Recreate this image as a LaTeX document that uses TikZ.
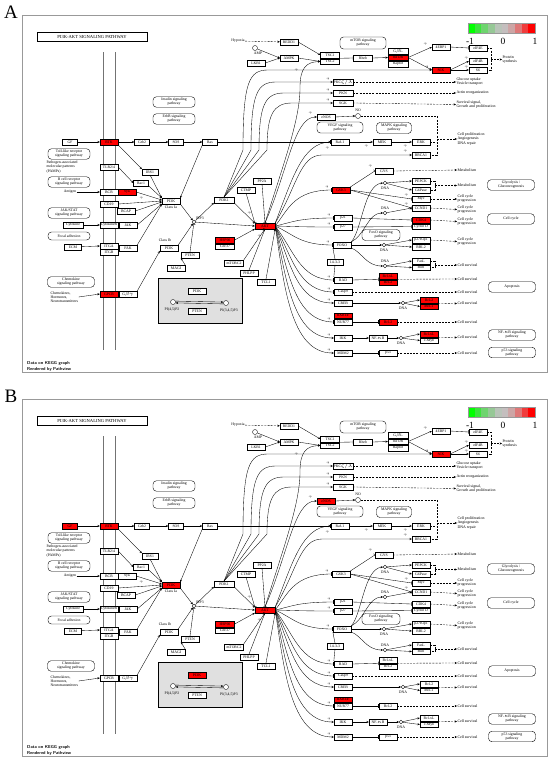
\documentclass[tikz,border=0pt]{standalone}
\usepackage{fontspec}
\setmainfont{Liberation Serif}
\usetikzlibrary{arrows.meta,calc}
\newcommand\gf{\fontsize{3.8}{4.1}\selectfont}
\newcommand\of{\fontsize{3.9}{4.1}\selectfont}
\newcommand\ppf{\fontsize{2.8}{3}\selectfont}
\tikzset{
 gb/.style={draw, fill=white, line width=0.35pt, minimum width=18pt, minimum height=5.5pt, inner sep=0pt, font=\gf, hl/#1/.try},
 gb/.default=none,
 pw/.style={draw, rounded corners=3.5pt, line width=0.4pt, align=center, font=\gf, inner sep=0.8pt, minimum width=42pt, minimum height=10.5pt},
 txt/.style={font=\gf, inner sep=0.4pt, align=left},
 otx/.style={font=\of, inner sep=0.3pt, align=left, anchor=west},
 ar/.style={line width=0.35pt, -{Stealth[length=2.4pt,width=2.1pt]}},
 inh/.style={line width=0.35pt, -{Bar[width=3.5pt,line width=0.45pt]}},
 dar/.style={ar, dash pattern=on 2pt off 1.2pt},
 dln/.style={line width=0.35pt, dash pattern=on 2pt off 1.2pt},
 ln/.style={line width=0.35pt},
 cmp/.style={draw, circle, fill=white, inner sep=0pt, minimum size=3.6pt, line width=0.35pt},
 pp/.style={font=\ppf, inner sep=0pt},
 mem/.style={draw=black!55, line width=1pt},
}
% fan from AKT to lower targets: style, target, y, control x
\newcommand\fan[4]{%
 \draw[#1] (AKT.east) .. controls (#4,{226+0.45*(#3-226)}) and ({#4+6},#3) .. (#2.west);
 \node[pp] at ([xshift=-5pt,yshift=2.6pt]#2.west) {+p};}
% fan from PDK1 to upper targets: target, y, bend x
\newcommand\pfan[3]{%
 \draw[ar] (PDK1.north) -- (#3,150) .. controls (#3,{#2+12}) and ({#3+6},#2) .. ({#3+25},#2) -- (#1.west);
 \node[pp] at ([xshift=-5pt,yshift=2.6pt]#1.west) {+p};}
\newcommand\keggpanel{%
\draw[draw=black!40, line width=0.9pt] (22,15) rectangle (547,372);
\node[draw, line width=0.4pt, minimum width=110pt, minimum height=9pt, inner sep=0pt, font=\fontsize{4.6}{5}\selectfont] (title) at (92,37) {PI3K-AKT SIGNALING PATHWAY};
\draw[mem] (103,52) -- (103,350);
\draw[mem] (115,52) -- (115,350);
% legend
\foreach \ii/\cR/\cG/\cB in {0/0/255/0,1/60/228/60,2/110/212/110,3/150/200/150,4/185/196/185,5/196/190/190,6/205/165/165,7/222/120/120,8/240/60/60,9/255/0/0}
  \fill[fill={rgb,255:red,\cR;green,\cG;blue,\cB}] ({468+6.7*\ii},23) rectangle ({468+6.7*(\ii+1)},33);
\draw[black!40, line width=0.3pt] (468,23) rectangle (535,33);
\node[font=\fontsize{9.5}{9.5}\selectfont] (lg1) at (470,41) {-1};
\node[font=\fontsize{9.5}{9.5}\selectfont] (lg2) at (503,41) {0};
\node[font=\fontsize{9.5}{9.5}\selectfont] (lg3) at (535,41) {1};
\node[anchor=west, font=\sffamily\bfseries\fontsize{4.3}{5}\selectfont, inner sep=0pt] (data1) at (27,363) {Data on KEGG graph};
\node[anchor=west, font=\sffamily\bfseries\fontsize{4.3}{5}\selectfont, inner sep=0pt] (data2) at (27,369) {Rendered by Pathview};
% left pathways and ligands
\node[pw] (tollpw) at (69,154) {Toll-like receptor\\signaling pathway};
\node[txt, anchor=west] (pamp) at (46,167) {Pathogen-associated\\molecular patterns\\(PAMPs)};
\node[pw] (bcrpw) at (69,182) {B cell receptor\\signaling pathway};
\node[txt] (antigen) at (70,192) {Antigen};
\node[pw] (jakpw) at (69,213) {JAK/STAT\\signaling pathway};
\node[gb=Cytokine, minimum width=20pt] (Cytokine) at (73,225) {Cytokine};
\node[pw, minimum height=8pt] (fapw) at (69,236) {Focal adhesion};
\node[gb=ECM, minimum width=17pt] (ECM) at (73,247) {ECM};
\node[pw, minimum width=47pt] (chempw) at (71,282) {Chemokine\\signaling pathway};
\node[txt, anchor=west] (chemo) at (50,297) {Chemokines,\\Hormones,\\Neurotransmitters};
\node[pw] (inspw) at (174,102) {Insulin signaling\\pathway};
\node[pw] (erbpw) at (174,119) {ErbB signaling\\pathway};
% membrane genes
\node[gb=GF, minimum width=15pt] (GF) at (70,142) {GF};
\node[gb=RTK] (RTK) at (109,142) {RTK};
\node[gb=Grb2, minimum width=15pt] (Grb2) at (142,142) {Grb2};
\node[gb=SOS, minimum width=15pt] (SOS) at (176,142) {SOS};
\node[gb=Ras, minimum width=15pt] (Ras) at (210,142) {Ras};
\node[gb=TLR] (TLR) at (109,167) {TLR2/4};
\node[gb=IRS1, minimum width=16pt] (IRS1) at (150,172) {IRS1};
\node[gb=Rac1, minimum width=15pt] (Rac1) at (141,183) {Rac1};
\node[gb=BCR] (BCR) at (109,192) {BCR};
\node[gb=Syk] (Syk) at (127,192) {Syk};
\node[gb=CD19] (CD19) at (109,204) {CD19};
\node[gb=BCAP] (BCAP) at (126,211) {BCAP};
\node[gb=CytR] (CytR) at (109,225) {CytokineR};
\node[gb=JAK] (JAK) at (128,225) {JAK};
\node[gb=ITGA] (ITGA) at (109,246) {ITGA};
\node[gb=ITGB] (ITGB) at (109,252) {ITGB};
\node[gb=FAK] (FAK) at (128,248) {FAK};
\node[gb=GPCR] (GPCR) at (109,294) {GPCR};
\node[gb=Gbg] (Gbg) at (128,294) {G$\beta\gamma$};
% PI3K area
\node[gb=PI3K] (PI3K) at (171,201) {PI3K};
\node[txt] (cla) at (171,207.5) {Class Ia};
\node[txt] (clb) at (165,240.5) {Class Ib};
\node[gb=PI3Kb] (PI3Kb) at (169,248) {PI3K};
\node[gb=PTEN] (PTEN) at (190,255) {PTEN};
\node[gb=MAGI] (MAGI) at (176,268) {MAGI};
\node[cmp] (PIP3) at (194,222) {};
\node[txt] (pip3l) at (200,218.5) {PIP3};
\node[gb=PDK1, minimum width=20pt] (PDK1) at (224,200) {PDK1};
\node[gb=CTMP] (CTMP) at (246,190) {CTMP};
\node[gb=PP2A] (PP2A) at (262,181) {PP2A};
\node[gb=AKT, minimum width=20pt] (AKT) at (265,226) {AKT};
\node[gb=HSP90, minimum width=19pt] (HSP90) at (225,240) {HSP90};
\node[gb=Cdc37, minimum width=19pt] (Cdc37) at (225,246.5) {Cdc37};
\node[gb=mTORC2, minimum width=19pt] (mTORC2) at (234,263) {mTORC2};
\node[gb=PHLPP] (PHLPP) at (249,273) {PHLPP};
\node[gb=TCL1] (TCL1) at (266,282) {TCL1};
% gray box
\draw[fill=black!12, line width=0.6pt] (158,278) rectangle (242,323);
\node[gb=PI3Kg] (PI3Kg) at (197,291) {PI3K};
\node[gb=PTENg] (PTENg) at (197,311) {PTEN};
\node[cmp, minimum size=5pt] (c1) at (173,302) {};
\node[cmp, minimum size=5pt] (c2) at (226,303) {};
\node[txt] (c1l) at (172,309.5) {PI(4,5)P2};
\node[txt] (c2l) at (229,310.5) {PI(3,4,5)P3};
\draw[ar] ([yshift=0.9pt]c1.east) -- ([yshift=0.9pt]c2.west);
\draw[ar] ([yshift=-0.9pt]c2.west) -- ([yshift=-0.9pt]c1.east);
% top area
\node[txt] (hypoxia) at (238,41) {Hypoxia};
\node[gb=REDD1] (REDD1) at (289,42) {REDD1};
\node[cmp, minimum size=5pt] (AMP) at (255,48) {};
\node[txt] (ampl) at (258,53) {AMP};
\node[gb=LKB1] (LKB1) at (256,63) {LKB1};
\node[gb=AMPK] (AMPK) at (289,58) {AMPK};
\node[gb=TSC1, minimum width=19pt] (TSC1) at (330,55) {TSC1};
\node[gb=TSC2, minimum width=19pt] (TSC2) at (330,61.5) {TSC2};
\node[gb=Rheb, minimum width=19pt] (Rheb) at (363,58) {Rheb};
\node[pw, minimum width=46pt, minimum height=12pt] (mtorpw) at (363,43) {mTOR signaling\\pathway};
\node[gb=GbL, minimum width=20pt] (GbL) at (398,51) {G$\beta$L};
\node[gb=mTOR, minimum width=20pt] (mTOR) at (398,57.5) {mTOR};
\node[gb=Raptor, minimum width=20pt] (Raptor) at (398,64) {Raptor};
\node[gb=EBP] (EBP) at (441,47) {4EBP1};
\node[gb=eIF4E] (eIF4E) at (478,48) {eIF4E};
\node[gb=eIF4B] (eIF4B) at (478,61) {eIF4B};
\node[gb=S6] (S6) at (478,70) {S6};
\node[gb=S6K] (S6K) at (441,70) {S6K};
\node[otx] (protsyn) at (502,59.5) {Protein\\synthesis};
\draw[dar] (hypoxia) -- (REDD1);
\draw[ar] (REDD1.east) -- (TSC1.west);
\draw[ar] (AMP) -- (AMPK.west);
\draw[ar] (LKB1.east) -- (AMPK.west);
\draw[ar] (AMPK.east) -- (TSC2.west);
\draw[inh] ($(TSC1.south east)!0.5!(TSC2.north east)$) -- (Rheb.west);
\draw[ar] (Rheb.east) -- (mTOR.west);
\draw[ar] (mTOR.east) -- (EBP.west);
\draw[ar] (mTOR.east) -- (S6K.west);
\draw[inh] (EBP.east) -- (eIF4E.west);
\draw[ar] (S6K.east) -- (eIF4B.west);
\draw[ar] (S6K.east) -- (S6.west);
\draw[dln] (eIF4E.east) -- (491,48) -- (491,70) -- (S6.east);
\draw[dar] (491,59.5) -- (protsyn.west);
\node[pp] (p1) at (425,44) {+p};
\node[pp] (p2) at (466,58) {+p};
\node[pp] (p3) at (466,67) {+p};
% PKC etc
\node[gb=PKC, minimum width=20pt] (PKC) at (343,82) {PKC$\zeta/\lambda$};
\node[gb=PKN, minimum width=20pt] (PKN) at (343,93) {PKN};
\node[gb=SGK, minimum width=20pt] (SGK) at (343,103) {SGK};
\node[otx] (glu) at (456,82) {Glucose uptake\\Vesicle transport};
\node[otx] (actin) at (456,93) {Actin reorganization};
\node[otx] (surv1) at (456,104.5) {Survival signal,\\Growth and proliferation};
\draw[dar] (PKC.east) -- (glu.west);
\draw[dar] (PKN.east) -- (actin.west);
\draw[dar] (SGK.east) -- (surv1.west);
\pfan{S6K}{70}{243}
\pfan{PKC}{82}{251}
\pfan{PKN}{93}{259}
\pfan{SGK}{103}{267}
% eNOS / MAPK
\node[gb=eNOS] (eNOS) at (326,117) {eNOS};
\node[cmp, minimum size=5pt] (NO) at (358,116) {};
\node[txt] (nol) at (358,110.5) {NO};
\node[pw, minimum width=46pt, minimum height=11pt] (vegfpw) at (340,127.5) {VEGF signaling\\pathway};
\node[pw, minimum width=35pt, minimum height=11pt] (mapkpw) at (394,128) {MAPK signaling\\pathway};
\node[gb=Raf1] (Raf1) at (340,142) {Raf-1};
\node[gb=MEK] (MEK) at (382,142) {MEK};
\node[gb=ERK] (ERK) at (421,142) {ERK};
\node[gb=BRCA1] (BRCA1) at (421,155) {BRCA1};
\node[otx] (cellprol) at (457,139) {Cell proliferation\\Angiogenesis\\DNA repair};
\draw[ar] (eNOS.east) -- (NO.west);
\draw[dln] (NO.east) -- (437,116) -- (437,155) -- (BRCA1.east);
\draw[dln] (ERK.east) -- (437,142);
\draw[dar] (437,139) -- (cellprol.west);
\draw[ar] (Ras.east) -- (Raf1.west);
\draw[ar] (Raf1.east) -- (MEK.west);
\draw[ar] (MEK.east) -- (ERK.west);
\node[pp] (p4) at (366,146) {+p};
\node[pp] (p5) at (405,146) {+p};
% AKT upper lines
\draw[ar] (AKT.north) .. controls (283,165) and (300,120) .. (300,88) .. controls (300,68) and (306,62) .. (TSC2.west);
\node[pp] (p6) at (296,70) {+p};
\draw[ar] (AKT.north) .. controls (288,170) and (294,117) .. (eNOS.west);
\node[pp] (p7) at (310,113) {+p};
\draw[inh] (AKT.north east) .. controls (292,180) and (302,142) .. (Raf1.west);
\node[pp] (p8) at (327,148) {+p};
\draw[ar] (AKT.north east) .. controls (297,186) and (300,155) .. (322,155) -- (BRCA1.west);
\node[pp] (p9) at (405,151) {+p};
% metabolism / cell cycle
\node[gb=GYS] (GYS) at (384,171) {GYS};
\node[gb=GSK3] (GSK3) at (341,190) {GSK3};
\node[cmp] (DNA1) at (385,183) {};
\node[txt] (dna1l) at (385,188) {DNA};
\node[gb=PEPCK] (PEPCK) at (421,181) {PEPCK};
\node[gb=G6Pase] (G6Pase) at (421,190) {G6Pase};
\node[gb=Myc] (Myc) at (421,199) {Myc};
\node[gb=CCND1] (CCND1) at (421,208) {CCND1};
\node[otx] (met1) at (457,170) {Metabolism};
\node[otx] (met2) at (457,185.5) {Metabolism};
\node[otx] (cc1) at (457,199) {Cell cycle\\progression};
\node[otx] (cc2) at (457,209.5) {Cell cycle\\progression};
\node[pw, minimum width=47pt] (glypw) at (511,185) {Glycolysis /\\Gluconeogenesis};
\draw[inh] (GSK3.north east) -- (GYS.west);
\node[pp] (p10) at (370,166) {+p};
\draw[dar] (GYS.east) -- (met1.west);
\draw[ar] (DNA1) -- (PEPCK.west);
\draw[ar] (DNA1) -- (G6Pase.west);
\draw[dln] (PEPCK.east) -- (435,181) -- (435,190) -- (G6Pase.east);
\draw[dar] (435,185.5) -- (met2.west);
\draw[inh] (GSK3.east) -- (Myc.west);
\draw[inh] (GSK3.east) -- (CCND1.west);
\node[pp] (p11) at (406,195) {+p};
\node[pp] (p12) at (406,204) {+p};
\draw[dar] (Myc.east) -- (cc1.west);
\draw[dar] (CCND1.east) -- (cc2.west);
\node[cmp] (DNA2) at (385,213) {};
\node[txt] (dna2l) at (385,208) {DNA};
\draw[ar] (DNA2) -- (CCND1.west);
\node[gb=CDK4] (CDK4) at (421,220) {CDK4};
\node[gb=CycD] (CycD) at (421,226.5) {Cyclin D};
\node[otx] (cc3) at (457,221.5) {Cell cycle\\progression};
\node[pw, minimum width=47pt] (ccpw) at (511,219) {Cell cycle};
\node[gb=p21] (p21) at (343,218) {p21};
\node[gb=p27] (p27) at (343,227) {p27};
\draw[inh] (p21.east) -- (CDK4.west);
\draw[inh] (p27.east) -- (CycD.west);
\draw[dar] (CDK4.east) -- (cc3.west);
\node[pw, minimum width=38pt, minimum height=11pt] (foxpw) at (381,235) {FoxO signaling\\pathway};
\node[gb=FOXO] (FOXO) at (342,245) {FOXO};
\node[cmp] (DNA3) at (384,245) {};
\node[txt] (dna3l) at (384,250) {DNA};
\node[gb=p27K] (p27K) at (421,240) {p27Kip1};
\node[gb=RBL2] (RBL2) at (421,247) {RBL2};
\node[otx] (cc4) at (457,241.5) {Cell cycle\\progression};
\draw[ar] (FOXO.east) -- (DNA3.west);
\draw[ar] (DNA3) -- (p27K.west);
\draw[ar] (DNA3) -- (RBL2.west);
\draw[dar] (p27K.east) -- (cc4.west);
\draw[ar] (FOXO.north east) .. controls (362,230) and (364,185) .. (DNA1.west);
\draw[ar] (FOXO.north east) .. controls (365,235) and (368,213) .. (DNA2.west);
\node[gb=y1433, minimum width=16pt] (y1433) at (335,262) {14-3-3};
\node[cmp] (DNA4) at (385,266) {};
\node[txt] (dna4l) at (385,261) {DNA};
\node[gb=FasL] (FasL) at (421,261) {FasL};
\node[gb=Bim] (Bim) at (421,267.5) {Bim};
\node[otx] (cs1) at (457,265) {Cell survival};
\draw[ar] (FOXO.south east) .. controls (362,252) and (366,266) .. (DNA4.west);
\draw[ar] (DNA4) -- (FasL.west);
\draw[ar] (DNA4) -- (Bim.west);
\draw[dln] (FasL.east) -- (435,261) -- (435,267.5) -- (Bim.east);
\draw[dar] (435,265) -- (cs1.west);
\draw[ln] (y1433.north) -- (FOXO.south west);
% apoptosis block
\node[gb=BAD] (BAD) at (343,280) {BAD};
\draw[ln] (y1433.south) -- (BAD.north west);
\node[gb=BclxL] (BclxL) at (388,276) {Bcl-xL};
\node[gb=Bcl2a] (Bcl2a) at (388,282.5) {Bcl-2};
\node[otx] (cs2) at (457,279) {Cell survival};
\node[pw, minimum width=47pt] (apopw) at (512,287) {Apoptosis};
\draw[inh] (BAD.east) -- ($(BclxL.south west)!0.5!(Bcl2a.north west)$);
\draw[dar] ($(BclxL.south east)!0.5!(Bcl2a.north east)$) -- (cs2.west);
\node[gb=Casp9] (Casp9) at (343,292) {Casp9};
\node[otx] (cs3) at (457,292) {Cell survival};
\draw[dar] (Casp9.east) -- (cs3.west);
\node[gb=CREB] (CREB) at (343,303) {CREB};
\node[cmp] (DNA5) at (403,303) {};
\node[txt] (dna5l) at (403,308) {DNA};
\node[gb=Bcl2b] (Bcl2b) at (429,300) {Bcl-2};
\node[gb=Mcl1] (Mcl1) at (429,306.5) {Mcl-1};
\node[otx] (cs4) at (457,303.5) {Cell survival};
\draw[ar] (CREB.east) -- (DNA5.west);
\draw[ar] (DNA5) -- (Bcl2b.west);
\draw[ar] (DNA5) -- (Mcl1.west);
\draw[dar] ($(Bcl2b.south east)!0.5!(Mcl1.north east)$) -- (cs4.west);
\node[gb=RXR] (RXR) at (343,315.5) {RXR$\alpha$};
\node[gb=NUR77] (NUR77) at (343,322) {NUR77};
\node[gb=Bcl2c] (Bcl2c) at (388,322) {Bcl-2};
\node[otx] (cs5) at (457,322) {Cell survival};
\draw[inh] (NUR77.east) -- (Bcl2c.west);
\draw[dar] (Bcl2c.east) -- (cs5.west);
\node[gb=IKK] (IKK) at (343,338) {IKK};
\node[gb=NFkB] (NFkB) at (378,338) {NF-$\kappa$B};
\node[cmp] (DNA6) at (401,338) {};
\node[txt] (dna6l) at (401,343) {DNA};
\node[gb=BclxL2] (BclxL2) at (429,334) {Bcl-xL};
\node[gb=cMyb] (cMyb) at (429,340.5) {c-Myb};
\node[otx] (cs6) at (457,337.5) {Cell survival};
\node[pw, minimum width=47pt] (nfpw) at (512,335) {NF-$\kappa$B signaling\\pathway};
\draw[ar] (IKK.east) -- (NFkB.west);
\draw[ar] (NFkB.east) -- (DNA6.west);
\draw[ar] (DNA6) -- (BclxL2.west);
\draw[ar] (DNA6) -- (cMyb.west);
\draw[dar] ($(BclxL2.south east)!0.5!(cMyb.north east)$) -- (cs6.west);
\node[gb=MDM2] (MDM2) at (343,353) {MDM2};
\node[gb=p53] (p53) at (388,353) {p53};
\node[otx] (cs7) at (457,353) {Cell survival};
\node[pw, minimum width=47pt] (p53pw) at (512,352.5) {p53 signaling\\pathway};
\draw[inh] (MDM2.east) -- (p53.west);
\draw[dar] (p53.east) -- (cs7.west);
% AKT lower fan
\fan{inh}{GSK3}{190}{288}
\fan{inh}{p21}{218}{292}
\fan{inh}{p27}{227}{294}
\fan{inh}{FOXO}{245}{294}
\fan{inh}{BAD}{280}{294}
\fan{inh}{Casp9}{292}{292}
\fan{ar}{CREB}{303}{290}
\fan{inh}{NUR77}{322}{288}
\fan{ar}{IKK}{338}{286}
\fan{ar}{MDM2}{353}{284}
% left connectors
\draw[ar] (GF) -- (RTK);
\draw[ar] (RTK) -- (Grb2);
\draw[ar] (Grb2) -- (SOS);
\draw[ar] (SOS) -- (Ras);
\draw[ar] (Ras.south west) -- (PI3K.north east);
\draw[ar] (RTK.south east) -- (IRS1.north west);
\draw[ar] (IRS1.south) -- (PI3K.north west);
\draw[ar] (TLR.east) -- (Rac1.west);
\draw[ar] (Rac1.south east) -- (PI3K.north west);
\draw[ar] (Syk.east) -- ([yshift=1pt]PI3K.west);
\node[pp] (p13) at (141,198) {+p};
\draw[ar] (CD19.east) -- (PI3K.west);
\draw[ar] (BCAP.east) -- ([yshift=-1pt]PI3K.west);
\draw[ar] (JAK.east) -- (PI3K.south west);
\draw[ar] (FAK.north east) -- (PI3K.south west);
\draw[ar] (antigen) -- (BCR);
\draw[ar] (Cytokine) -- (CytR);
\draw[ar] (ECM) -- (ITGA.west);
\draw[ar] (chemo.east) -- (GPCR.west);
\draw[ar] (Gbg.north east) -- (PI3Kb.south west);
\draw[ar] (PI3K.south east) -- (PIP3);
\draw[ar] (PI3Kb.north east) -- (PIP3);
\draw[inh] (PTEN.north) -- (PIP3);
\draw[ar] (MAGI.north east) -- (PTEN.south west);
\draw[ar] (PIP3) -- (PDK1.south west);
\draw[ar] (PIP3) -- (AKT.west);
\draw[ar] (PDK1.south east) -- (AKT.north west);
\node[pp] (p14) at (249,213) {+p};
\draw[inh] (CTMP.south) -- (AKT.north west);
\draw[inh] (PP2A.south) -- (AKT.north);
\draw[ar] (HSP90.east) -- (AKT.south west);
\draw[ar] (mTORC2.north east) -- (AKT.south);
\node[pp] (p15) at (259,236) {+p};
\draw[inh] (PHLPP.north) -- (AKT.south);
\draw[ar] (TCL1.north) -- (AKT.south east);
}
\begin{document}
\begin{tikzpicture}[x=1pt,y=-1pt]
\useasboundingbox (0,0) rectangle (550,771);
\fill[white] (0,0) rectangle (550,771);
\node[font=\fontsize{19}{19}\selectfont] (labA) at (11,12) {A};
\node[font=\fontsize{19}{19}\selectfont] (labB) at (11,396) {B};
\begin{scope}[name prefix=A-]
\tikzset{hl/RTK/.style={fill=red}, hl/Syk/.style={fill=red}, hl/GPCR/.style={fill=red},
 hl/AKT/.style={fill=red}, hl/HSP90/.style={fill=red}, hl/GSK3/.style={fill=red},
 hl/mTOR/.style={fill=red}, hl/S6K/.style={fill=red}, hl/CDK4/.style={fill=red},
 hl/BclxL/.style={fill=red}, hl/Bcl2a/.style={fill=red}, hl/Bcl2b/.style={fill=red},
 hl/Mcl1/.style={fill=red}, hl/RXR/.style={fill=red}, hl/Bcl2c/.style={fill=red},
 hl/BclxL2/.style={fill=red}}
\keggpanel
\end{scope}
\begin{scope}[yshift=-384pt, name prefix=B-]
\tikzset{hl/GF/.style={fill=red}, hl/RTK/.style={fill=red}, hl/PI3K/.style={fill=red},
 hl/PI3Kg/.style={fill=red}, hl/AKT/.style={fill=red}, hl/HSP90/.style={fill=red},
 hl/eNOS/.style={fill=red}, hl/S6K/.style={fill=red}, hl/RXR/.style={fill=red}}
\keggpanel
\end{scope}
\end{tikzpicture}
\end{document}
